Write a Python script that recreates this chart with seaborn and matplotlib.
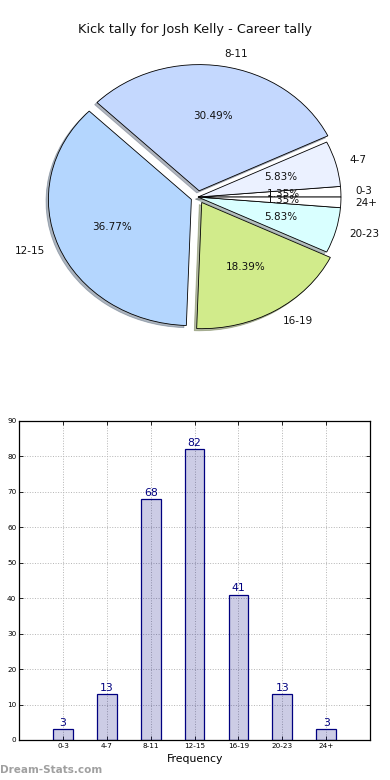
import matplotlib
matplotlib.use("Agg")
import matplotlib.pyplot as plt
import seaborn as sns

# data
categories = ["0-3", "4-7", "8-11", "12-15", "16-19", "20-23", "24+"]
kicks = [3, 13, 68, 82, 41, 13, 3]
pie_colors = ["#ffffff", "#ebf1ff", "#c4d8fe", "#b4d6fe", "#d1eb8b", "#d9ffff", "#ffffff"]
explode = [0, 0, 0.05, 0.05, 0.05, 0, 0]
y_ticks = [0, 10, 20, 30, 40, 50, 60, 70, 80, 90]

plt.rcParams['font.family'] = ['DejaVu Sans']
fig = plt.figure(figsize=(3.9, 7.8), dpi=100)
fig.patch.set_facecolor("white")

# Pie chart
ax1 = fig.add_axes([0, 0.538, 1, 0.411])
ax1.pie(kicks, labels=categories, colors=pie_colors, explode=explode,
        autopct='%1.2f%%', startangle=0,
        shadow={'ox': -0.012, 'oy': -0.012, 'shade': 0.5},
        textprops={'fontsize': 7.5, 'color': '#111111'},
        wedgeprops={'linewidth': 0.6, 'edgecolor': 'black'})
ax1.set_aspect('auto')
ax1.set_xlim(-1.385, 1.343)
ax1.set_ylim(-1.294, 1.246)
ax1.axis('off')

fig.text(0.5, 1 - 30 / 780, "Kick tally for Josh Kelly - Career tally",
         ha='center', va='center', fontsize=9.3, color='#111111')

# Bar chart
ax2 = fig.add_axes([0.049, 0.0513, 0.9, 0.409])
sns.barplot(x=categories, y=kicks, ax=ax2, width=0.45, order=categories)
for p in ax2.patches:
    p.set_facecolor((0, 0, 0.5, 0.2))
    p.set_edgecolor('navy')
    p.set_linewidth(0.9)
ax2.bar_label(ax2.containers[0], color='navy', fontsize=7.8, padding=1)

ax2.set_xlim(-1, 7)
ax2.set_ylim(0, 90)
ax2.set_yticks(y_ticks)
ax2.grid(True, linestyle=':', color='#b4b4b4', linewidth=0.7)
ax2.set_axisbelow(True)
ax2.tick_params(axis='both', direction='in', length=3, width=0.6,
                top=True, right=True, labelsize=5.2, pad=2)
ax2.set_xlabel("Frequency", fontsize=7.8, labelpad=4)
ax2.set_ylabel("")
for s in ax2.spines.values():
    s.set_linewidth(0.9)
    s.set_color('black')

fig.text(0.0, 1 - 770 / 780, "Dream-Stats.com", ha='left', va='center',
         fontsize=7.5, fontweight='bold', color='#a0a0a0')

fig.savefig("out.png", dpi=100)
